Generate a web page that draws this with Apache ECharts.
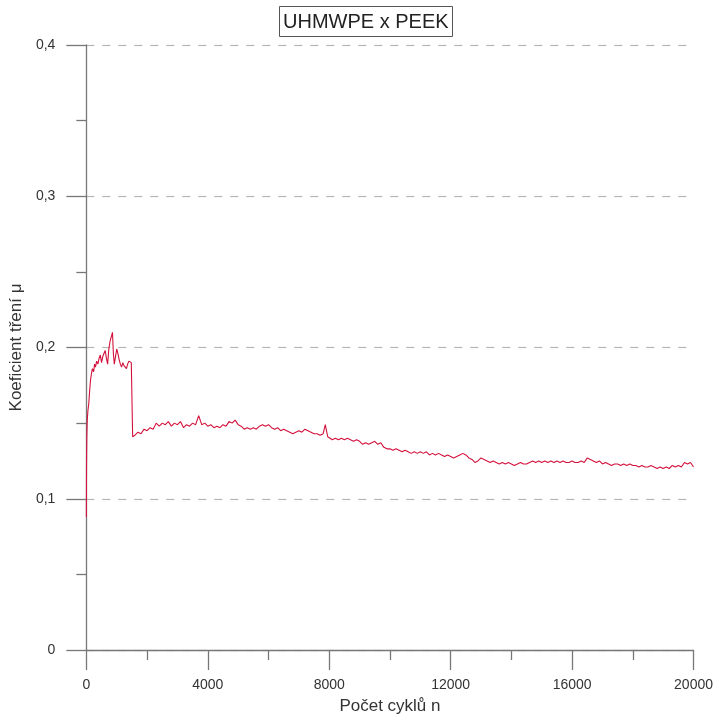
<!DOCTYPE html>
<html>
<head>
<meta charset="utf-8">
<script src="https://cdn.jsdelivr.net/npm/echarts@6/dist/echarts.min.js"></script>
<style>
  html, body { margin: 0; padding: 0; background: #fff; overflow: hidden; }
  #chart { width: 716px; height: 720px; }
</style>
</head>
<body>
<div id="chart"></div>
<script>
// Friction coefficient vs. number of cycles, UHMWPE against PEEK
const cycles = [
  0, 5, 15, 30, 50, 80, 110, 140, 170, 200, 240, 270, 300, 340, 380, 420, 460, 500, 540, 580,
  620, 660, 700, 740, 780, 820, 860, 890, 920, 960, 1000, 1040, 1080, 1120, 1160, 1200, 1240, 1280, 1320, 1360,
  1400, 1440, 1480, 1510, 1525,
  1600, 1700, 1800, 1900, 2000, 2100, 2200, 2300, 2400, 2500,
  2600, 2700, 2800, 2900, 3000, 3100, 3200, 3300, 3400, 3500,
  3600, 3700, 3800, 3900, 4000, 4100, 4200, 4300, 4400, 4500,
  4600, 4700, 4800, 4900, 5000, 5100, 5200, 5300, 5400, 5500,
  5600, 5700, 5800, 5900, 6000, 6100, 6200, 6300, 6400, 6500,
  6600, 6700, 6800, 6900, 7000, 7100, 7200, 7300, 7400, 7500,
  7600, 7700, 7800, 7870, 7950, 8000, 8100, 8200, 8300, 8400,
  8500, 8600, 8700, 8800, 8900, 9000, 9100, 9200, 9300, 9400,
  9500, 9600, 9700, 9800, 9900, 10000, 10100, 10200, 10300, 10400,
  10500, 10600, 10700, 10800, 10900, 11000, 11100, 11200, 11300, 11400,
  11500, 11600, 11700, 11800, 11900, 12000, 12100, 12200, 12300, 12400,
  12500, 12600, 12700, 12800, 12900, 13000, 13100, 13200, 13300, 13400,
  13500, 13600, 13700, 13800, 13900, 14000, 14100, 14200, 14300, 14400,
  14500, 14600, 14700, 14800, 14900, 15000, 15100, 15200, 15300, 15400,
  15500, 15600, 15700, 15800, 15900, 16000, 16100, 16200, 16300, 16400,
  16500, 16600, 16700, 16800, 16900, 17000, 17100, 17200, 17300, 17400,
  17500, 17600, 17700, 17800, 17900, 18000, 18100, 18200, 18300, 18400,
  18500, 18600, 18700, 18800, 18900, 19000, 19100, 19200, 19300, 19400,
  19500, 19600, 19700, 19800, 19900, 20000
];

const mu = [
  0.088, 0.120, 0.140, 0.152, 0.158, 0.163, 0.172, 0.179, 0.183, 0.186, 0.184, 0.189, 0.187, 0.191, 0.189, 0.193, 0.195, 0.190, 0.194, 0.196,
  0.198, 0.193, 0.189, 0.199, 0.204, 0.207, 0.210, 0.196, 0.189, 0.194, 0.199, 0.196, 0.192, 0.189, 0.187, 0.190, 0.188, 0.187, 0.186, 0.189,
  0.191, 0.192, 0.190, 0.189, 0.141,
  0.142, 0.144, 0.143, 0.146, 0.145, 0.147, 0.146, 0.150, 0.148, 0.150,
  0.149, 0.151, 0.148, 0.150, 0.149, 0.151, 0.147, 0.149, 0.148, 0.150,
  0.149, 0.155, 0.149, 0.150, 0.148, 0.149, 0.147, 0.148, 0.147, 0.149,
  0.148, 0.151, 0.150, 0.152, 0.149, 0.148, 0.146, 0.147, 0.146, 0.147,
  0.146, 0.148, 0.149, 0.148, 0.149, 0.147, 0.146, 0.147, 0.145, 0.146,
  0.145, 0.144, 0.143, 0.144, 0.145, 0.144, 0.146, 0.145, 0.144, 0.143,
  0.143, 0.142, 0.143, 0.149, 0.141, 0.140, 0.139, 0.140, 0.139, 0.140,
  0.139, 0.140, 0.139, 0.138, 0.139, 0.138, 0.136, 0.137, 0.136, 0.137,
  0.138, 0.136, 0.137, 0.134, 0.133, 0.133, 0.132, 0.133, 0.132, 0.131,
  0.132, 0.131, 0.130, 0.131, 0.130, 0.131, 0.130, 0.131, 0.129, 0.130,
  0.129, 0.130, 0.129, 0.128, 0.129, 0.128, 0.127, 0.128, 0.129, 0.130,
  0.129, 0.127, 0.126, 0.124, 0.125, 0.127, 0.126, 0.125, 0.124, 0.125,
  0.124, 0.123, 0.124, 0.123, 0.124, 0.123, 0.122, 0.123, 0.124, 0.123,
  0.123, 0.124, 0.125, 0.124, 0.125, 0.124, 0.125, 0.124, 0.125, 0.124,
  0.125, 0.124, 0.125, 0.124, 0.124, 0.125, 0.124, 0.124, 0.125, 0.124,
  0.127, 0.126, 0.125, 0.124, 0.125, 0.123, 0.124, 0.123, 0.122, 0.123,
  0.123, 0.122, 0.123, 0.122, 0.123, 0.122, 0.122, 0.121, 0.122, 0.121,
  0.121, 0.122, 0.121, 0.120, 0.121, 0.120, 0.121, 0.120, 0.122, 0.121,
  0.122, 0.121, 0.124, 0.123, 0.124, 0.121
];

const xTicks = [0, 4000, 8000, 12000, 16000, 20000];
const yTicks = [0, 0.1, 0.2, 0.3, 0.4];

const points = cycles.map((c, i) => [c, mu[i]]);
const font = '"Liberation Sans", Arial, sans-serif';
const axisGray = '#777777';

const chart = echarts.init(document.getElementById('chart'), null, { renderer: 'canvas', width: 716, height: 720 });
chart.setOption({
  animation: false,
  backgroundColor: '#ffffff',
  title: {
    text: 'UHMWPE x PEEK',
    left: 279,
    top: 6,
    padding: [6, 4, 5, 4],
    borderColor: '#555',
    borderWidth: 1,
    textStyle: { fontFamily: font, fontSize: 20, fontWeight: 'normal', color: '#222' }
  },
  grid: { left: 86, right: 20, top: 45, bottom: 65, containLabel: false },
  xAxis: {
    type: 'value',
    min: xTicks[0],
    max: xTicks[xTicks.length - 1],
    interval: xTicks[1] - xTicks[0],
    name: 'Počet cyklů n',
    nameLocation: 'middle',
    nameGap: 48,
    nameTextStyle: { fontFamily: font, fontSize: 17, color: '#333' },
    axisLine: { onZero: false, lineStyle: { color: axisGray, width: 1.3 } },
    axisTick: { show: true, inside: false, length: 20, lineStyle: { color: axisGray, width: 1.3 } },
    minorTick: { show: true, splitNumber: 2, length: 10, lineStyle: { color: axisGray, width: 1.3 } },
    axisLabel: {
      margin: 28,
      fontFamily: font,
      fontSize: 14,
      color: '#333',
      formatter: v => String(v)
    },
    splitLine: { show: false }
  },
  yAxis: {
    type: 'value',
    min: yTicks[0],
    max: yTicks[yTicks.length - 1],
    interval: yTicks[1] - yTicks[0],
    name: 'Koeficient tření μ',
    nameLocation: 'middle',
    nameGap: 55,
    nameTextStyle: { fontFamily: font, fontSize: 17, color: '#333' },
    axisLine: { show: true, lineStyle: { color: axisGray, width: 1.3 } },
    axisTick: { show: true, inside: false, length: 20, lineStyle: { color: axisGray, width: 1.3 } },
    minorTick: { show: true, splitNumber: 2, length: 10, lineStyle: { color: axisGray, width: 1.3 } },
    axisLabel: {
      margin: 31,
      fontFamily: font,
      fontSize: 14,
      color: '#333',
      formatter: v => (v === 0 ? '0' : v.toFixed(1).replace('.', ','))
    },
    splitLine: {
      show: true,
      lineStyle: { color: '#b5b5b5', type: [8, 8], width: 1.2 }
    }
  },
  series: [{
    type: 'line',
    data: points,
    showSymbol: false,
    smooth: false,
    lineStyle: { color: '#d3123c', width: 1.1 },
    z: 3
  }]
});
</script>
</body>
</html>
